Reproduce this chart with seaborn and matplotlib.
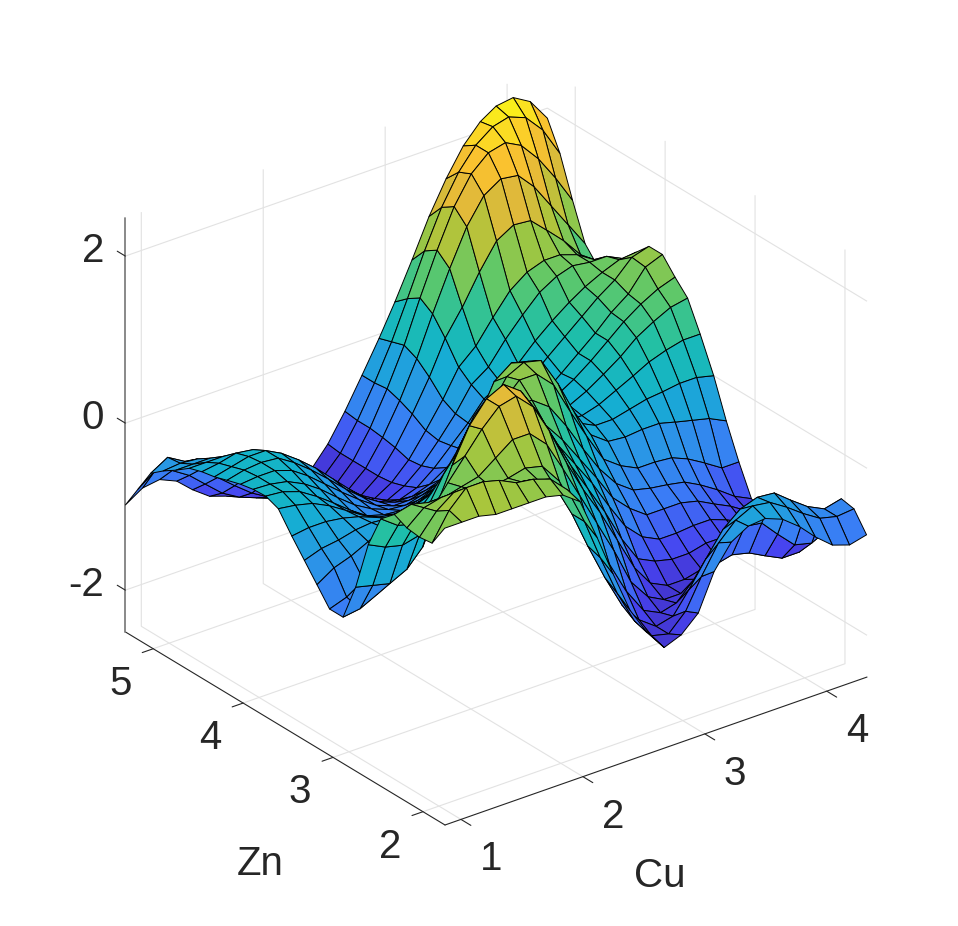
import matplotlib
matplotlib.use('Agg')
import matplotlib.pyplot as plt
import numpy as np
import seaborn as sns
from mpl_toolkits.mplot3d import proj3d

# values
cu_values = [0.87, 1.01, 1.15, 1.29, 1.42, 1.56, 1.70, 1.84, 1.98, 2.12, 2.25, 2.39, 2.53,
             2.67, 2.81, 2.95, 3.08, 3.22, 3.36, 3.50, 3.64, 3.78, 3.91, 4.05, 4.19, 4.33]
zn_values = [1.76, 1.90, 2.04, 2.18, 2.32, 2.47, 2.61, 2.75, 2.89, 3.04, 3.18, 3.32, 3.46,
             3.61, 3.75, 3.89, 4.03, 4.18, 4.32, 4.46, 4.60, 4.75, 4.89, 5.03, 5.17, 5.31]

z_row_00 = [1.05, 1.05, 1.05, 1.0, 1.0, 1.0, 1.0, 0.95, 0.8, 0.3, -0.2, -0.71, -1.05, -1.3, -1.22, -1.03, -0.6, -0.32, -0.2, -0.18, -0.26, -0.42, -0.61, -0.78, -0.85, -0.8]
z_row_01 = [0.78, 1.1, 1.3, 1.3, 1.25, 1.15, 1.12, 1.05, 0.85, 0.4, -0.1, -0.6, -1.0, -1.25, -1.3, -1.1, -0.75, -0.42, -0.22, -0.12, -0.15, -0.28, -0.42, -0.55, -0.6, -0.58]
z_row_02 = [0.76, 1.0, 1.15, 1.15, 1.05, 1.0, 1.0, 0.95, 0.8, 0.4, -0.05, -0.5, -0.9, -1.15, -1.3, -1.25, -1.0, -0.7, -0.42, -0.25, -0.18, -0.2, -0.35, -0.5, -0.6, -0.55]
z_row_03 = [0.78, 0.95, 1.0, 1.0, 0.95, 0.92, 0.95, 1.0, 0.95, 0.7, 0.3, -0.1, -0.5, -0.9, -1.2, -1.3, -1.25, -1.05, -0.85, -0.7, -0.62, -0.65, -0.85, -1.05, -1.1, -1.0]
z_row_04 = [0.85, 0.9, 0.85, 0.85, 0.9, 0.95, 1.1, 1.25, 1.25, 1.05, 0.7, 0.3, -0.1, -0.5, -0.95, -1.2, -1.3, -1.3, -1.2, -1.1, -1.05, -1.1, -1.2, -1.3, -1.3, -1.2]
z_row_05 = [0.7, 0.55, 0.5, 0.6, 0.85, 1.1, 1.35, 1.55, 1.6, 1.4, 1.05, 0.6, 0.2, -0.15, -0.55, -0.95, -1.2, -1.3, -1.3, -1.25, -1.2, -1.2, -1.25, -1.3, -1.3, -1.22]
z_row_06 = [0.3, 0.2, 0.15, 0.2, 0.45, 0.9, 1.3, 1.55, 1.65, 1.5, 1.2, 0.8, 0.4, 0.05, -0.3, -0.7, -1.0, -1.1, -1.15, -1.15, -1.1, -1.1, -1.15, -1.2, -1.25, -1.25]
z_row_07 = [-0.3, -0.35, -0.4, -0.3, -0.1, 0.35, 0.9, 1.25, 1.35, 1.3, 1.15, 0.85, 0.55, 0.25, -0.05, -0.4, -0.7, -0.9, -1.0, -1.0, -0.98, -0.98, -1.05, -1.15, -1.22, -1.28]
z_row_08 = [-0.75, -0.72, -0.62, -0.45, -0.15, 0.2, 0.55, 0.8, 0.95, 1.0, 1.0, 0.9, 0.7, 0.45, 0.15, -0.15, -0.45, -0.65, -0.8, -0.8, -0.8, -0.85, -0.95, -1.05, -1.18, -1.28]
z_row_09 = [-0.75, -0.68, -0.55, -0.4, -0.2, 0.0, 0.2, 0.4, 0.55, 0.7, 0.85, 0.9, 0.9, 0.75, 0.45, 0.1, -0.2, -0.45, -0.6, -0.65, -0.68, -0.72, -0.82, -0.95, -1.1, -1.2]
z_row_10 = [-0.55, -0.42, -0.35, -0.25, -0.15, -0.1, 0.0, 0.1, 0.25, 0.4, 0.6, 0.85, 1.05, 1.05, 0.85, 0.45, 0.1, -0.25, -0.4, -0.5, -0.5, -0.52, -0.6, -0.72, -0.85, -0.85]
z_row_11 = [-0.35, -0.28, -0.25, -0.2, -0.18, -0.2, -0.18, -0.12, -0.02, 0.1, 0.3, 0.7, 1.0, 1.1, 1.05, 0.7, 0.3, -0.05, -0.2, -0.22, -0.2, -0.2, -0.25, -0.3, -0.35, -0.45]
z_row_12 = [-0.15, -0.12, -0.12, -0.15, -0.2, -0.28, -0.32, -0.3, -0.25, -0.15, -0.02, 0.45, 0.85, 1.0, 0.95, 0.6, 0.2, 0.0, -0.1, -0.1, -0.05, 0.0, 0.02, 0.05, 0.05, 0.0]
z_row_13 = [0.08, 0.05, 0.0, -0.1, -0.22, -0.35, -0.45, -0.48, -0.45, -0.38, -0.28, -0.05, 0.3, 0.45, 0.45, 0.25, 0.05, -0.08, -0.08, -0.02, 0.08, 0.18, 0.28, 0.35, 0.4, 0.4]
z_row_14 = [0.14, 0.12, 0.05, -0.08, -0.22, -0.38, -0.52, -0.58, -0.6, -0.55, -0.48, -0.4, -0.32, -0.25, -0.2, -0.18, -0.15, -0.1, -0.05, 0.05, 0.18, 0.32, 0.48, 0.6, 0.7, 0.74]
z_row_15 = [0.13, 0.12, 0.08, -0.02, -0.15, -0.32, -0.48, -0.6, -0.68, -0.7, -0.65, -0.58, -0.5, -0.42, -0.35, -0.28, -0.2, -0.12, -0.02, 0.1, 0.25, 0.42, 0.58, 0.72, 0.83, 0.9]
z_row_16 = [0.1, 0.12, 0.12, 0.05, -0.08, -0.25, -0.42, -0.58, -0.72, -0.8, -0.8, -0.75, -0.68, -0.58, -0.48, -0.38, -0.25, -0.12, -0.08, 0.08, 0.25, 0.42, 0.6, 0.75, 1.0, 1.08]
z_row_17 = [0.05, 0.1, 0.12, 0.1, -0.02, -0.18, -0.36, -0.55, -0.72, -0.85, -0.92, -0.92, -0.85, -0.72, -0.58, -0.42, -0.25, -0.08, 0.0, 0.18, 0.35, 0.52, 0.68, 0.82, 1.02, 1.08]
z_row_18 = [0.0, 0.05, 0.1, 0.1, 0.0, -0.15, -0.32, -0.52, -0.72, -0.9, -1.02, -1.05, -0.98, -0.82, -0.62, -0.42, -0.2, -0.08, 0.08, 0.28, 0.45, 0.6, 0.72, 0.82, 0.9, 0.92]
z_row_19 = [-0.03, 0.0, 0.05, 0.02, -0.08, -0.2, -0.38, -0.58, -0.78, -0.98, -1.12, -1.15, -1.05, -0.88, -0.65, -0.4, -0.12, 0.02, 0.28, 0.5, 0.7, 0.82, 0.88, 0.85, 0.85, 0.75]
z_row_20 = [-0.08, -0.08, -0.08, -0.12, -0.2, -0.32, -0.5, -0.68, -0.88, -1.05, -1.2, -1.22, -1.1, -0.9, -0.62, -0.32, 0.0, 0.18, 0.45, 0.7, 0.85, 0.92, 0.92, 0.85, 0.72, 0.55]
z_row_21 = [-0.2, -0.2, -0.2, -0.28, -0.38, -0.52, -0.68, -0.85, -1.02, -1.18, -1.28, -1.28, -1.12, -0.85, -0.52, -0.15, 0.25, 0.55, 0.9, 1.2, 1.32, 1.3, 1.12, 0.92, 0.68, 0.47]
z_row_22 = [-0.3, -0.28, -0.3, -0.4, -0.55, -0.72, -0.88, -1.02, -1.18, -1.3, -1.35, -1.3, -1.12, -0.82, -0.45, -0.02, 0.45, 0.92, 1.35, 1.65, 1.78, 1.75, 1.55, 1.25, 0.95, 0.65]
z_row_23 = [-0.42, -0.3, -0.42, -0.58, -0.75, -0.92, -1.08, -1.2, -1.32, -1.4, -1.42, -1.33, -1.12, -0.8, -0.4, 0.05, 0.55, 1.05, 1.5, 1.82, 2.0, 2.05, 1.95, 1.72, 1.42, 1.08]
z_row_24 = [-0.7, -0.55, -0.62, -0.75, -0.92, -1.1, -1.22, -1.3, -1.38, -1.42, -1.42, -1.33, -1.12, -0.8, -0.42, 0.0, 0.45, 0.95, 1.4, 1.75, 2.0, 2.15, 2.2, 2.12, 1.9, 1.55]
z_row_25 = [-0.98, -0.85, -0.82, -0.91, -1.08, -1.23, -1.3, -1.33, -1.4, -1.42, -1.38, -1.34, -1.1, -0.78, -0.42, -0.05, 0.32, 0.75, 1.2, 1.58, 1.9, 2.12, 2.24, 2.27, 2.15, 1.88]

z_rows = [z_row_00, z_row_01, z_row_02, z_row_03, z_row_04, z_row_05, z_row_06, z_row_07, z_row_08,
          z_row_09, z_row_10, z_row_11, z_row_12, z_row_13, z_row_14, z_row_15, z_row_16, z_row_17,
          z_row_18, z_row_19, z_row_20, z_row_21, z_row_22, z_row_23, z_row_24, z_row_25]

cu_ticks = [1, 2, 3, 4]
zn_ticks = [2, 3, 4, 5]
z_ticks = [-2, 0, 2]

# parula anchors
parula = ['#3e26a8', '#4743f0', '#3a7cf6', '#2a95e6', '#12b1cf', '#1fbfa8',
          '#5cc86b', '#a8c63c', '#e0b93a', '#fcc32e', '#f9fb15']

xmin, xmax = 0.869, 4.33
ymin, ymax = 1.755, 5.31
zmin, zmax = -2.5, 2.46
ink = '#262626'

sns.set_theme(style='white')
plt.rcParams['font.family'] = ['Liberation Sans', 'DejaVu Sans']

fig = plt.figure(figsize=(9.58, 9.26), dpi=100)
ax = fig.add_axes([0.1, 0.1, 0.8, 0.8 * 958 / 926], projection='3d', proj_type='ortho')
ax.patch.set_alpha(0)

X, Y = np.meshgrid(cu_values, zn_values)
Z = np.array(z_rows)
cmap = sns.blend_palette(parula, n_colors=256, as_cmap=True)
ax.plot_surface(X, Y, Z, rstride=1, cstride=1, cmap=cmap, vmin=-1.5, vmax=2.3,
                edgecolor='black', linewidth=0.7, shade=False, antialiased=True)

# tick marks, MATLAB style
for t in cu_ticks:
    ax.plot([t, t], [ymin, ymin - 0.11], [zmin, zmin], color=ink, lw=0.8, clip_on=False)
for t in zn_ticks:
    ax.plot([xmin, xmin - 0.09], [t, t], [zmin, zmin], color=ink, lw=0.8, clip_on=False)
for t in z_ticks:
    ax.plot([xmin, xmin], [ymax, ymax + 0.09], [t, t], color=ink, lw=0.8, clip_on=False)

ax.view_init(elev=27.4, azim=-127.3)
ax.set_box_aspect((531, 528, 467))
ax.set_xlim(xmin, xmax, view_margin=0)
ax.set_ylim(ymin, ymax, view_margin=0)
ax.set_zlim(zmin, zmax, view_margin=0)
ax.set_xticks(cu_ticks)
ax.set_yticks(zn_ticks)
ax.set_zticks(z_ticks)
ax.set_xticklabels([])
ax.set_yticklabels([])
ax.set_zticklabels([])

for axis in (ax.xaxis, ax.yaxis, ax.zaxis):
    axis.set_pane_color((1, 1, 1, 0))
    axis.pane.set_edgecolor((1, 1, 1, 0))
    axis.line.set_color(ink)
    axis.line.set_linewidth(0.8)
    axis._axinfo['grid'].update(color='#e2e2e2', linewidth=0.8)
    axis._axinfo['tick'].update(inward_factor=0, outward_factor=0)
ax.zaxis.line.set_color('#808080')
ax.zaxis.line.set_linewidth(1.3)


# line the box up with the reference corners
def corner(x, y, z):
    xs, ys, _ = proj3d.proj_transform(x, y, z, ax.get_proj())
    return ax.transData.transform((xs, ys))


for _ in range(3):
    fig.canvas.draw()
    front = corner(xmin, ymin, zmin)
    right = corner(xmax, ymin, zmin)
    scale = 422 / (right[0] - front[0])
    pos = ax.get_position()
    w_px = pos.width * 958 * scale
    x0 = pos.x0 * 958 + 445 - front[0]
    y0 = pos.y0 * 926 + (926 - 825) - front[1]
    cx = x0 + pos.width * 958 / 2
    cy = y0 + pos.height * 926 / 2
    ax.set_position([(cx - w_px / 2) / 958, (cy - w_px / 2) / 926, w_px / 958, w_px / 926])
fig.canvas.draw()


def label(px, py, s, **kw):
    fig.text(px / 958, py / 926, s, fontsize=29, color=ink, va='center', **kw)


for t in cu_ticks:
    p = corner(t, ymin, zmin)
    label(p[0] + 30, p[1] - 40, str(t), ha='center')
for t in zn_ticks:
    p = corner(xmin, t, zmin)
    label(p[0] - 33, p[1] - 35, str(t), ha='center')
for t in z_ticks:
    p = corner(xmin, ymax, t)
    label(p[0] - 21, p[1] + 5, str(t), ha='right')

label(660, 926 - 876, 'Cu', ha='center')
label(260, 926 - 864, 'Zn', ha='center')

fig.savefig('out.png', dpi=100, facecolor='white')
